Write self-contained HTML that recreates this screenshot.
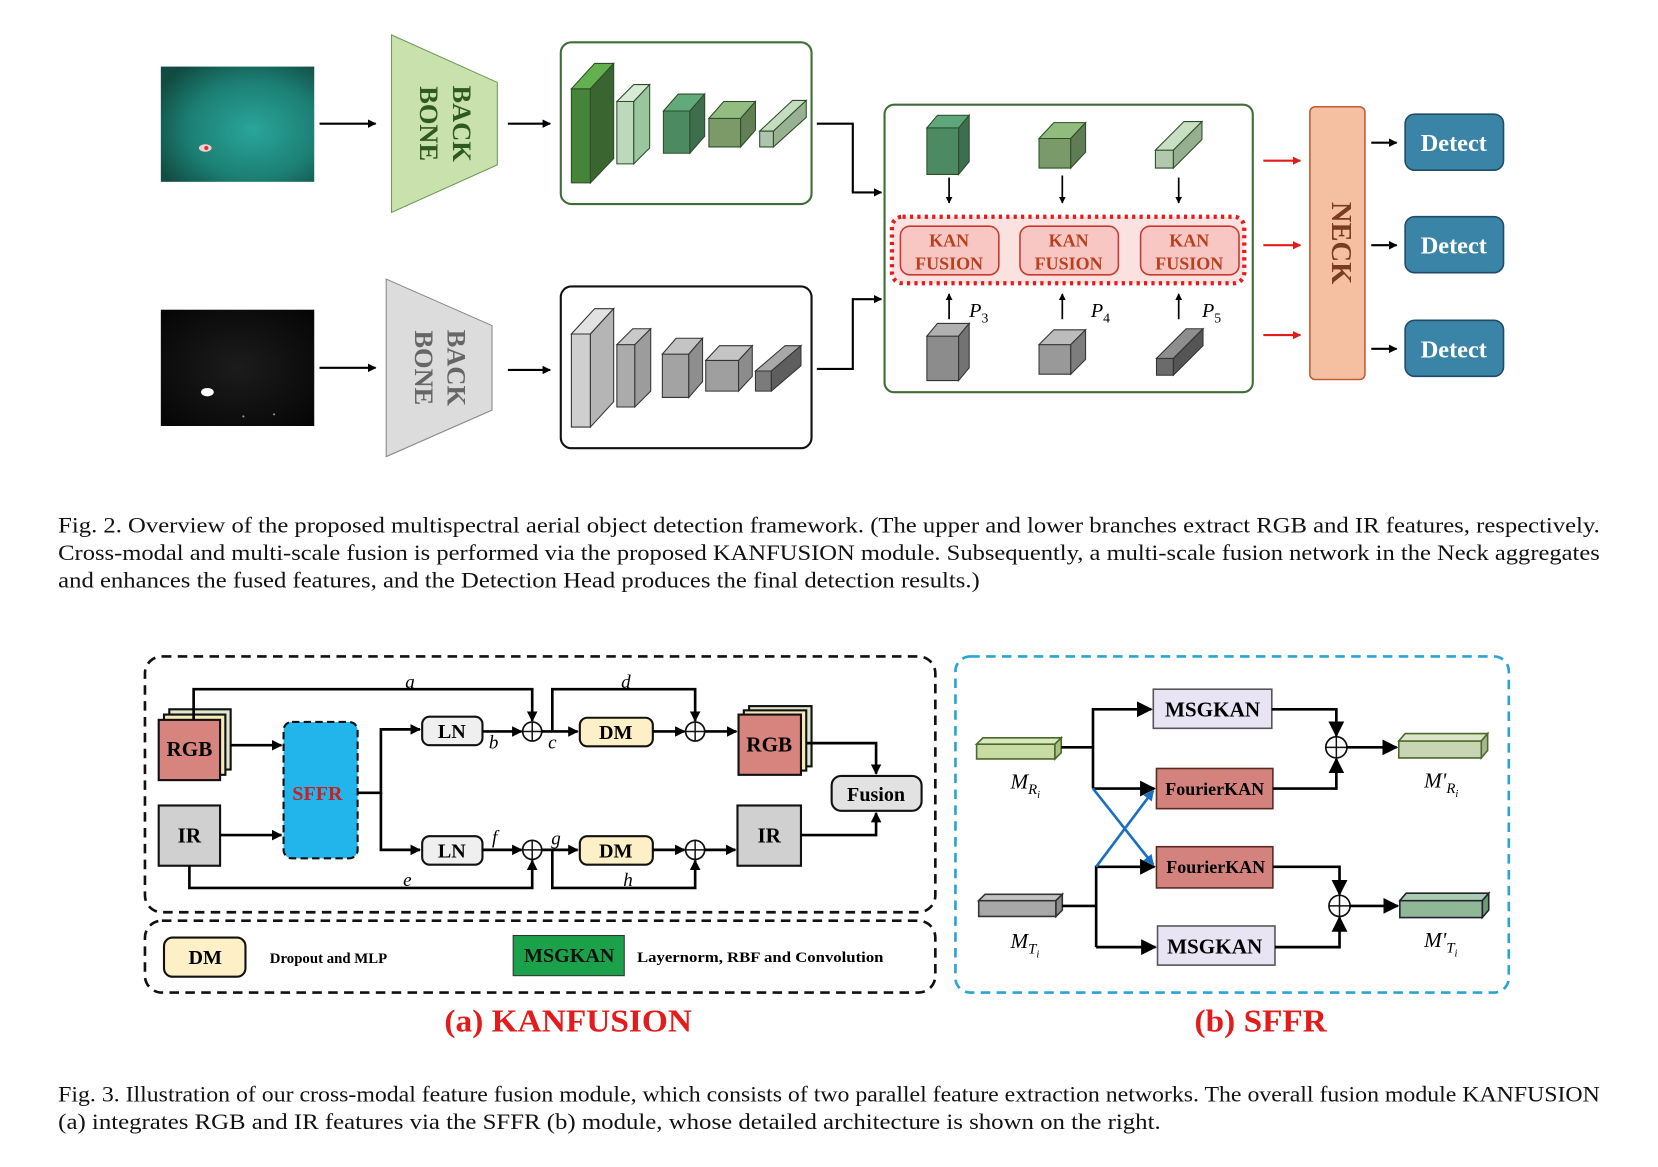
<!DOCTYPE html>
<html><head><meta charset="utf-8"><style>
html,body{margin:0;padding:0;background:#fff;}
svg{display:block;}
text{font-family:"Liberation Serif",serif;}
</style></head><body>
<svg width="1658" height="1167" viewBox="0 0 1567 1104" preserveAspectRatio="none" xmlns="http://www.w3.org/2000/svg">
<defs>
<marker id="ah" viewBox="0 0 10 10" refX="9" refY="5" markerWidth="4" markerHeight="4" orient="auto"><path d="M0,0L10,5L0,10z" fill="#000"/></marker>
<marker id="ahr" viewBox="0 0 10 10" refX="9" refY="5" markerWidth="4" markerHeight="4" orient="auto"><path d="M0,0L10,5L0,10z" fill="#e31b1b"/></marker>
<marker id="ahb" viewBox="0 0 10 10" refX="9" refY="5" markerWidth="4" markerHeight="4" orient="auto"><path d="M0,0L10,5L0,10z" fill="#1a6fbf"/></marker>
<marker id="ahs" viewBox="0 0 10 10" refX="9" refY="5" markerWidth="6" markerHeight="6" orient="auto"><path d="M0,0L10,5L0,10z" fill="#000"/></marker>
<radialGradient id="sea" cx="0.6" cy="0.55" r="0.7"><stop offset="0" stop-color="#2aa59a"/><stop offset="0.6" stop-color="#1c7f74"/><stop offset="1" stop-color="#114c42"/></radialGradient>
<radialGradient id="night" cx="0.5" cy="0.5" r="0.7"><stop offset="0" stop-color="#1c1c1c"/><stop offset="1" stop-color="#050505"/></radialGradient>
</defs>

<rect x="152" y="63" width="145" height="109" fill="url(#sea)"/>
<ellipse cx="194" cy="140" rx="6" ry="3.5" fill="#f0d0d0"/><circle cx="195" cy="140" r="2" fill="#e03030"/>
<rect x="152" y="293" width="145" height="110" fill="url(#night)"/>
<ellipse cx="196" cy="371" rx="6" ry="4" fill="#fff"/>
<circle cx="230" cy="394" r="1" fill="#999"/><circle cx="259" cy="392" r="1" fill="#999"/>

<g stroke="#000" stroke-width="2" fill="none" marker-end="url(#ah)">
<line x1="302" y1="117" x2="355" y2="117"/>
<line x1="302" y1="348" x2="355" y2="348"/>
<line x1="480" y1="117" x2="520" y2="117"/>
<line x1="480" y1="350" x2="520" y2="350"/>
<polyline points="772,117 806,117 806,182 833,182"/>
<polyline points="772,349 806,349 806,283 833,283"/>
</g>

<polygon points="370,33 470,78 470,156 370,201" fill="#c9e1ad" stroke="#6f9a55" stroke-width="1"/>
<text transform="translate(428,117) rotate(90)" text-anchor="middle" font-size="25" font-weight="bold" fill="#2e5a22">BACK</text>
<text transform="translate(397,117) rotate(90)" text-anchor="middle" font-size="25" font-weight="bold" fill="#2e5a22">BONE</text>
<polygon points="365,264 465,308 465,388 365,432" fill="#dcdcdc" stroke="#888" stroke-width="1"/>
<text transform="translate(423,348) rotate(90)" text-anchor="middle" font-size="25" font-weight="bold" fill="#666">BACK</text>
<text transform="translate(392,348) rotate(90)" text-anchor="middle" font-size="25" font-weight="bold" fill="#666">BONE</text>

<rect x="530" y="40" width="237" height="153" rx="10" fill="#fff" stroke="#3e6e35" stroke-width="2"/>
<rect x="530" y="271" width="237" height="153" rx="10" fill="#fff" stroke="#111" stroke-width="2"/>

<g stroke="#2c4d28" stroke-width="1">
<polygon points="540,84 558,84 558,173 540,173" fill="#45853a"/>
<polygon points="540,84 558,84 580,60 562,60" fill="#62b04e"/>
<polygon points="558,84 580,60 580,150 558,173" fill="#3a6530"/>
<polygon points="583,96 599,96 599,155 583,155" fill="#bcd9bc"/>
<polygon points="583,96 599,96 614,80 599,80" fill="#d7ebd7"/>
<polygon points="599,96 614,80 614,140 599,155" fill="#9ac59e"/>
<polygon points="627,105 652,105 652,145 627,145" fill="#4c8a62"/>
<polygon points="627,105 652,105 666,89 641,89" fill="#62aa7c"/>
<polygon points="652,105 666,89 666,129 652,145" fill="#3f6e4e"/>
<polygon points="670,112 700,112 700,139 670,139" fill="#7b9a68"/>
<polygon points="670,112 700,112 714,96 684,96" fill="#93bd80"/>
<polygon points="700,112 714,96 714,123 700,139" fill="#627f56"/>
<polygon points="718,124 731,124 731,139 718,139" fill="#adc4ad"/>
<polygon points="718,124 731,124 762,95 749,95" fill="#c5dcc0"/>
<polygon points="731,124 762,95 762,111 731,139" fill="#97b192"/>
</g>
<g stroke="#333" stroke-width="1">
<polygon points="540,316 558,316 558,404 540,404" fill="#cfcfcf"/>
<polygon points="540,316 558,316 580,292 562,292" fill="#e2e2e2"/>
<polygon points="558,316 580,292 580,380 558,404" fill="#b5b5b5"/>
<polygon points="583,326 600,326 600,385 583,385" fill="#ababab"/>
<polygon points="583,326 600,326 615,311 598,311" fill="#c9c9c9"/>
<polygon points="600,326 615,311 615,370 600,385" fill="#9c9c9c"/>
<polygon points="626,335 651,335 651,376 626,376" fill="#a3a3a3"/>
<polygon points="626,335 651,335 664,320 639,320" fill="#c4c4c4"/>
<polygon points="651,335 664,320 664,361 651,376" fill="#8e8e8e"/>
<polygon points="667,341 698,341 698,370 667,370" fill="#9f9f9f"/>
<polygon points="667,341 698,341 711,327 680,327" fill="#c4c4c4"/>
<polygon points="698,341 711,327 711,356 698,370" fill="#8c8c8c"/>
<polygon points="714,351 729,351 729,370 714,370" fill="#7b7b7b"/>
<polygon points="714,351 729,351 757,327 742,327" fill="#a8a8a8"/>
<polygon points="729,351 757,327 757,346 729,370" fill="#5e5e5e"/>
</g>

<rect x="836" y="99" width="348" height="272" rx="9" fill="#fff" stroke="#3e6e35" stroke-width="2"/>
<g stroke="#2c4d28" stroke-width="1">
<polygon points="876,121 906,121 906,165 876,165" fill="#4c8a63"/>
<polygon points="876,121 906,121 916,109 886,109" fill="#5fa77a"/>
<polygon points="906,121 916,109 916,153 906,165" fill="#3d6e4f"/>
<polygon points="982,131 1012,131 1012,159 982,159" fill="#7b9a69"/>
<polygon points="982,131 1012,131 1026,116 996,116" fill="#92bb7e"/>
<polygon points="1012,131 1026,116 1026,144 1012,159" fill="#5f7c54"/>
<polygon points="1092,142 1109,142 1109,159 1092,159" fill="#b2c8ab"/>
<polygon points="1092,142 1109,142 1136,115 1119,115" fill="#c9dfc3"/>
<polygon points="1109,142 1136,115 1136,132 1109,159" fill="#96b08f"/>
</g>
<g stroke="#333" stroke-width="1">
<polygon points="876,318 906,318 906,360 876,360" fill="#8c8c8c"/>
<polygon points="876,318 906,318 916,306 886,306" fill="#b0b0b0"/>
<polygon points="906,318 916,306 916,348 906,360" fill="#737373"/>
<polygon points="982,326 1012,326 1012,354 982,354" fill="#999"/>
<polygon points="982,326 1012,326 1026,312 996,312" fill="#bcbcbc"/>
<polygon points="1012,326 1026,312 1026,340 1012,354" fill="#7d7d7d"/>
<polygon points="1093,339 1109,339 1109,355 1093,355" fill="#6b6b6b"/>
<polygon points="1093,339 1109,339 1137,311 1121,311" fill="#8e8e8e"/>
<polygon points="1109,339 1137,311 1137,327 1109,355" fill="#555"/>
</g>
<g stroke="#000" stroke-width="1.6" marker-end="url(#ah)">
<line x1="897" y1="168" x2="897" y2="192"/>
<line x1="1004" y1="166" x2="1004" y2="192"/>
<line x1="1114" y1="168" x2="1114" y2="192"/>
<line x1="897" y1="302" x2="897" y2="278"/>
<line x1="1004" y1="302" x2="1004" y2="278"/>
<line x1="1114" y1="302" x2="1114" y2="278"/>
</g>
<rect x="843" y="205" width="333" height="63" rx="10" fill="#fbe1df" stroke="#e31b1b" stroke-width="4" stroke-dasharray="3,4"/>
<g fill="#f8c6c3" stroke="#c83a2e" stroke-width="1.5">
<rect x="851" y="214" width="93" height="46" rx="9"/>
<rect x="964" y="214" width="93" height="46" rx="9"/>
<rect x="1078" y="214" width="93" height="46" rx="9"/>
</g>
<g font-size="17" font-weight="bold" fill="#b8401e" text-anchor="middle">
<text x="897" y="233">KAN</text><text x="897" y="255">FUSION</text>
<text x="1010" y="233">KAN</text><text x="1010" y="255">FUSION</text>
<text x="1124" y="233">KAN</text><text x="1124" y="255">FUSION</text>
</g>
<g font-size="19" font-style="italic">
<text x="916" y="300">P<tspan font-size="13" dy="5" font-style="normal">3</tspan></text>
<text x="1031" y="300">P<tspan font-size="13" dy="5" font-style="normal">4</tspan></text>
<text x="1136" y="300">P<tspan font-size="13" dy="5" font-style="normal">5</tspan></text>
</g>

<g stroke="#e31b1b" stroke-width="2" marker-end="url(#ahr)">
<line x1="1194" y1="152" x2="1229" y2="152"/>
<line x1="1194" y1="232" x2="1229" y2="232"/>
<line x1="1194" y1="317" x2="1229" y2="317"/>
</g>
<rect x="1238" y="101" width="52" height="258" rx="5" fill="#f5c0a2" stroke="#c25c38" stroke-width="1.5"/>
<text transform="translate(1259,230) rotate(90)" text-anchor="middle" font-size="27" font-weight="bold" fill="#7a3b1e">NECK</text>
<g stroke="#000" stroke-width="2" marker-end="url(#ah)">
<line x1="1296" y1="135" x2="1320" y2="135"/>
<line x1="1296" y1="232" x2="1320" y2="232"/>
<line x1="1296" y1="330" x2="1320" y2="330"/>
</g>
<g fill="#3a84a8" stroke="#1f4c66" stroke-width="1.5">
<rect x="1328" y="108" width="93" height="53" rx="9"/>
<rect x="1328" y="205" width="93" height="53" rx="9"/>
<rect x="1328" y="303" width="93" height="53" rx="9"/>
</g>
<g font-size="23" font-weight="bold" fill="#fff" text-anchor="middle">
<text x="1374" y="143">Detect</text><text x="1374" y="240">Detect</text><text x="1374" y="338">Detect</text>
</g>

<g font-size="21" fill="#111">
<text x="55" y="504" textLength="1457" lengthAdjust="spacingAndGlyphs">Fig. 2.  Overview of the proposed multispectral aerial object detection framework. (The upper and lower branches extract RGB and IR features, respectively.</text>
<text x="55" y="530" textLength="1457" lengthAdjust="spacingAndGlyphs">Cross-modal and multi-scale fusion is performed via the proposed KANFUSION module. Subsequently, a multi-scale fusion network in the Neck aggregates</text>
<text x="55" y="556" textLength="871" lengthAdjust="spacingAndGlyphs">and enhances the fused features, and the Detection Head produces the final detection results.)</text>
</g>

<rect x="137" y="621" width="747" height="242" rx="16" fill="none" stroke="#111" stroke-width="2.5" stroke-dasharray="9,6"/>
<rect x="137" y="871" width="747" height="68" rx="16" fill="none" stroke="#111" stroke-width="2.5" stroke-dasharray="9,6"/>

<rect x="160" y="671" width="58" height="57" fill="#dfe8cf" stroke="#111" stroke-width="2"/>
<rect x="155" y="676" width="58" height="57" fill="#f6eab8" stroke="#111" stroke-width="2"/>
<rect x="150" y="681" width="58" height="57" fill="#d7847f" stroke="#111" stroke-width="2"/>
<text x="179" y="715" text-anchor="middle" font-size="20" font-weight="bold">RGB</text>
<rect x="150" y="762" width="58" height="57" fill="#d0d0d0" stroke="#111" stroke-width="2"/>
<text x="179" y="797" text-anchor="middle" font-size="20" font-weight="bold">IR</text>

<rect x="268" y="683" width="70" height="129" rx="8" fill="#22b5ec" stroke="#111" stroke-width="2" stroke-dasharray="7,4"/>
<text x="300" y="757" text-anchor="middle" font-size="19" font-weight="bold" fill="#d01c1c">SFFR</text>

<rect x="399" y="678" width="57" height="27" rx="7" fill="#efefef" stroke="#111" stroke-width="2"/>
<text x="427" y="698" text-anchor="middle" font-size="19" font-weight="bold">LN</text>
<rect x="399" y="791" width="57" height="27" rx="7" fill="#efefef" stroke="#111" stroke-width="2"/>
<text x="427" y="811" text-anchor="middle" font-size="19" font-weight="bold">LN</text>
<rect x="548" y="679" width="69" height="27" rx="7" fill="#fdefc6" stroke="#111" stroke-width="2"/>
<text x="582" y="699" text-anchor="middle" font-size="19" font-weight="bold">DM</text>
<rect x="548" y="791" width="69" height="27" rx="7" fill="#fdefc6" stroke="#111" stroke-width="2"/>
<text x="582" y="811" text-anchor="middle" font-size="19" font-weight="bold">DM</text>

<rect x="708" y="668" width="59" height="57" fill="#dfe8cf" stroke="#111" stroke-width="2"/>
<rect x="703" y="672" width="59" height="57" fill="#f6eab8" stroke="#111" stroke-width="2"/>
<rect x="698" y="676" width="59" height="57" fill="#d7847f" stroke="#111" stroke-width="2"/>
<text x="727" y="711" text-anchor="middle" font-size="20" font-weight="bold">RGB</text>
<rect x="697" y="762" width="60" height="57" fill="#d0d0d0" stroke="#111" stroke-width="2"/>
<text x="727" y="797" text-anchor="middle" font-size="20" font-weight="bold">IR</text>
<rect x="786" y="734" width="85" height="33" rx="9" fill="#e2e2e2" stroke="#111" stroke-width="2"/>
<text x="828" y="758" text-anchor="middle" font-size="19" font-weight="bold">Fusion</text>

<g fill="#fff" stroke="#111" stroke-width="1.6">
<circle cx="503" cy="692" r="9"/><circle cx="657" cy="692" r="9"/>
<circle cx="503" cy="804" r="9"/><circle cx="657" cy="804" r="9"/>
</g>
<g stroke="#111" stroke-width="1.4">
<line x1="494" y1="692" x2="512" y2="692"/><line x1="503" y1="683" x2="503" y2="701"/>
<line x1="648" y1="692" x2="666" y2="692"/><line x1="657" y1="683" x2="657" y2="701"/>
<line x1="494" y1="804" x2="512" y2="804"/><line x1="503" y1="795" x2="503" y2="813"/>
<line x1="648" y1="804" x2="666" y2="804"/><line x1="657" y1="795" x2="657" y2="813"/>
</g>

<g stroke="#000" stroke-width="2.5" fill="none">
<line x1="218" y1="705" x2="266" y2="705" marker-end="url(#ah)"/>
<line x1="208" y1="790" x2="266" y2="790" marker-end="url(#ah)"/>
<polyline points="338,750 360,750 360,690 397,690" marker-end="url(#ah)"/>
<polyline points="360,750 360,804 397,804" marker-end="url(#ah)"/>
<line x1="456" y1="692" x2="493" y2="692" marker-end="url(#ah)"/>
<line x1="456" y1="804" x2="493" y2="804" marker-end="url(#ah)"/>
<polyline points="183,681 183,652 503,652 503,682" marker-end="url(#ah)"/>
<line x1="512" y1="692" x2="546" y2="692" marker-end="url(#ah)"/>
<polyline points="522,692 522,652 657,652 657,682" marker-end="url(#ah)"/>
<line x1="617" y1="692" x2="647" y2="692" marker-end="url(#ah)"/>
<line x1="666" y1="692" x2="696" y2="692" marker-end="url(#ah)"/>
<polyline points="179,819 179,840 503,840 503,814" marker-end="url(#ah)"/>
<line x1="512" y1="804" x2="546" y2="804" marker-end="url(#ah)"/>
<polyline points="522,804 522,840 657,840 657,814" marker-end="url(#ah)"/>
<line x1="617" y1="804" x2="647" y2="804" marker-end="url(#ah)"/>
<line x1="666" y1="804" x2="695" y2="804" marker-end="url(#ah)"/>
<polyline points="762,703 828,703 828,732" marker-end="url(#ah)"/>
<polyline points="757,790 828,790 828,769" marker-end="url(#ah)"/>
</g>
<g font-size="18" font-style="italic">
<text x="383" y="651">a</text><text x="462" y="708">b</text><text x="518" y="708">c</text>
<text x="587" y="651">d</text><text x="381" y="838">e</text><text x="465" y="798">f</text>
<text x="521" y="799">g</text><text x="589" y="838">h</text>
</g>

<rect x="155" y="887" width="77" height="37" rx="8" fill="#fdefc6" stroke="#111" stroke-width="2"/>
<text x="194" y="912" text-anchor="middle" font-size="19" font-weight="bold">DM</text>
<text x="255" y="911" font-size="14" font-weight="bold">Dropout and MLP</text>
<rect x="485" y="885" width="105" height="38" fill="#1aa14a" stroke="#333" stroke-width="1"/>
<text x="538" y="910" text-anchor="middle" font-size="19" font-weight="bold" fill="#111">MSGKAN</text>
<text x="602" y="910" font-size="14" font-weight="bold" textLength="233" lengthAdjust="spacingAndGlyphs">Layernorm, RBF and Convolution</text>

<text x="420" y="976" font-size="30" font-weight="bold" fill="#e31b1b" textLength="234" lengthAdjust="spacingAndGlyphs">(a) KANFUSION</text>

<rect x="903" y="621" width="523" height="318" rx="14" fill="none" stroke="#29a3d8" stroke-width="2.5" stroke-dasharray="9,6"/>
<text x="1129" y="976" font-size="30" font-weight="bold" fill="#e31b1b" textLength="125" lengthAdjust="spacingAndGlyphs">(b) SFFR</text>

<g stroke="#4a6a2a" stroke-width="1.5">
<polygon points="923,704 997,704 997,718 923,718" fill="#c7dba3"/>
<polygon points="923,704 997,704 1003,698 929,698" fill="#d9e8bd"/>
<polygon points="997,704 1003,698 1003,712 997,718" fill="#a9c07f"/>
<polygon points="1322,701 1400,701 1400,717 1322,717" fill="#c9d4b3"/>
<polygon points="1322,701 1400,701 1406,694 1328,694" fill="#dce4c9"/>
<polygon points="1400,701 1406,694 1406,710 1400,717" fill="#a9b592"/>
</g>
<g stroke="#333" stroke-width="1.5">
<polygon points="925,852 998,852 998,867 925,867" fill="#a8a8a8"/>
<polygon points="925,852 998,852 1004,846 931,846" fill="#c4c4c4"/>
<polygon points="998,852 1004,846 1004,861 998,867" fill="#8a8a8a"/>
</g>
<g stroke="#223" stroke-width="1.5">
<polygon points="1323,852 1401,852 1401,868 1323,868" fill="#8fb897"/>
<polygon points="1323,852 1401,852 1407,845 1329,845" fill="#a9cbb0"/>
<polygon points="1401,852 1407,845 1407,861 1401,868" fill="#6f9977"/>
</g>

<rect x="1090" y="652" width="112" height="37" fill="#e8e4f4" stroke="#555" stroke-width="1.5"/>
<text x="1146" y="678" text-anchor="middle" font-size="20" font-weight="bold">MSGKAN</text>
<rect x="1093" y="727" width="110" height="38" fill="#d4827d" stroke="#5a2a22" stroke-width="1.5"/>
<text x="1148" y="752" text-anchor="middle" font-size="17" font-weight="bold">FourierKAN</text>
<rect x="1093" y="801" width="110" height="39" fill="#d4827d" stroke="#5a2a22" stroke-width="1.5"/>
<text x="1149" y="826" text-anchor="middle" font-size="17" font-weight="bold">FourierKAN</text>
<rect x="1094" y="876" width="111" height="37" fill="#e8e4f4" stroke="#555" stroke-width="1.5"/>
<text x="1148" y="902" text-anchor="middle" font-size="20" font-weight="bold">MSGKAN</text>

<g fill="#fff" stroke="#111" stroke-width="1.6"><circle cx="1263" cy="707" r="10"/><circle cx="1266" cy="857" r="10"/></g>
<g stroke="#111" stroke-width="1.4">
<line x1="1253" y1="707" x2="1273" y2="707"/><line x1="1263" y1="697" x2="1263" y2="717"/>
<line x1="1256" y1="857" x2="1276" y2="857"/><line x1="1266" y1="847" x2="1266" y2="867"/>
</g>
<g stroke="#000" stroke-width="2.5" fill="none">
<polyline points="1003,707 1033,707"/>
<polyline points="1033,746 1033,671 1088,671" marker-end="url(#ahs)"/>
<line x1="1033" y1="746" x2="1091" y2="746" marker-end="url(#ahs)"/>
<polyline points="1004,857 1036,857"/>
<polyline points="1036,896 1036,820 1091,820" marker-end="url(#ahs)"/>
<line x1="1036" y1="896" x2="1092" y2="896" marker-end="url(#ahs)"/>
<polyline points="1202,671 1263,671 1263,696" marker-end="url(#ahs)"/>
<polyline points="1203,746 1263,746 1263,718" marker-end="url(#ahs)"/>
<line x1="1273" y1="707" x2="1320" y2="707" marker-end="url(#ahs)"/>
<polyline points="1203,820 1266,820 1266,846" marker-end="url(#ahs)"/>
<polyline points="1205,896 1266,896 1266,868" marker-end="url(#ahs)"/>
<line x1="1276" y1="857" x2="1321" y2="857" marker-end="url(#ahs)"/>
</g>
<g stroke="#1a6fbf" stroke-width="2.5" fill="none">
<line x1="1033" y1="746" x2="1090" y2="818" marker-end="url(#ahb)"/>
<line x1="1036" y1="820" x2="1090" y2="748" marker-end="url(#ahb)"/>
</g>
<g font-size="20" font-style="italic">
<text x="955" y="746">M<tspan font-size="14" dy="5">R</tspan><tspan font-size="10" dy="4">i</tspan></text>
<text x="955" y="897">M<tspan font-size="14" dy="5">T</tspan><tspan font-size="10" dy="4">i</tspan></text>
<text x="1346" y="745">M'<tspan font-size="14" dy="5">R</tspan><tspan font-size="10" dy="4">i</tspan></text>
<text x="1346" y="896">M'<tspan font-size="14" dy="5">T</tspan><tspan font-size="10" dy="4">i</tspan></text>
</g>

<g font-size="21" fill="#111">
<text x="55" y="1042" textLength="1457" lengthAdjust="spacingAndGlyphs">Fig. 3. Illustration of our cross-modal feature fusion module, which consists of two parallel feature extraction networks. The overall fusion module KANFUSION</text>
<text x="55" y="1068" textLength="1042" lengthAdjust="spacingAndGlyphs">(a) integrates RGB and IR features via the SFFR (b) module, whose detailed architecture is shown on the right.</text>
</g>
</svg>
</body></html>
